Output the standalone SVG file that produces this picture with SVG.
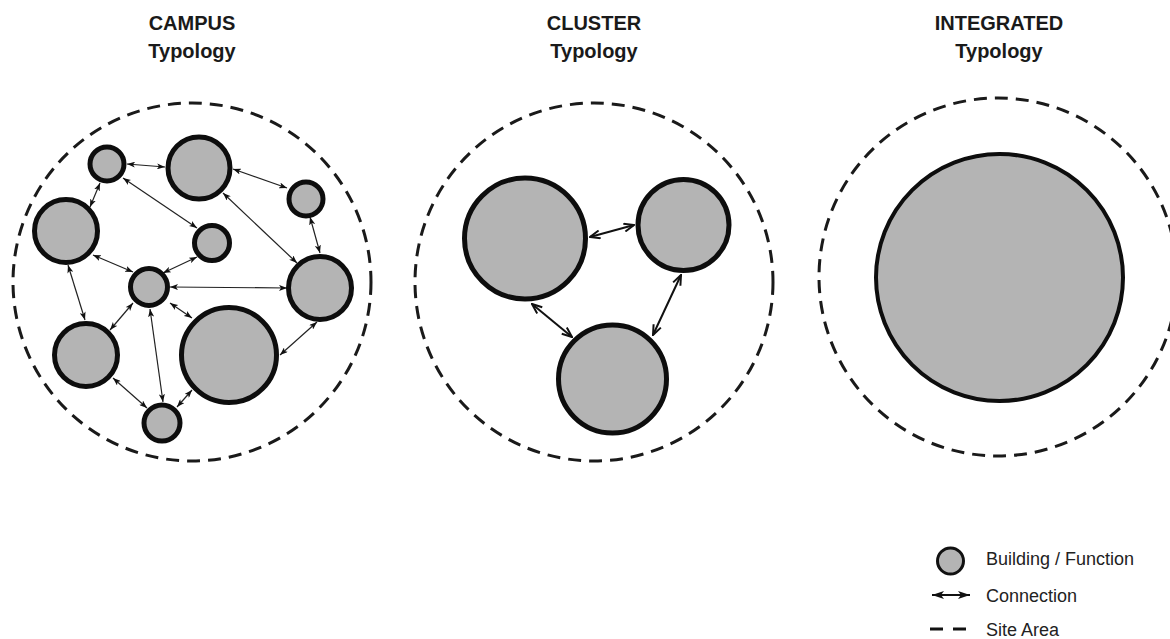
<svg xmlns="http://www.w3.org/2000/svg" width="1170" height="639" viewBox="0 0 1170 639">
<style>
.bg{fill:#ffffff}
.site{fill:none;stroke:#1a1a1a;stroke-width:3;stroke-dasharray:13 8}
.bld{fill:#b4b4b4;stroke:#0d0d0d;stroke-width:5}
.bldi{fill:#b4b4b4;stroke:#0d0d0d;stroke-width:4}
.conn{fill:none;stroke:#222;stroke-width:1.2;marker-start:url(#ah);marker-end:url(#ah)}
.connc{fill:none;stroke:#111;stroke-width:2;marker-start:url(#ahc);marker-end:url(#ahc)}
.title{font-family:"Liberation Sans",Arial,sans-serif;font-weight:bold;font-size:20px;fill:#1a1a1a;text-anchor:middle}
.leg{font-family:"Liberation Sans",Arial,sans-serif;font-size:18px;fill:#222}
</style>
<defs>
<marker id="ah" viewBox="0 0 8 6" refX="8" refY="3" markerWidth="8" markerHeight="6" markerUnits="userSpaceOnUse" orient="auto-start-reverse">
<path d="M0,0 L8,3 L0,6 L2,3 z" fill="#111"/>
</marker>
<marker id="ahc" viewBox="0 0 12 10" refX="11" refY="5" markerWidth="12" markerHeight="10" markerUnits="userSpaceOnUse" orient="auto-start-reverse">
<path d="M1,1 L11,5 L1,9" fill="none" stroke="#111" stroke-width="2"/>
</marker>
<marker id="ahl" viewBox="0 0 12 8" refX="12" refY="4" markerWidth="12" markerHeight="8" markerUnits="userSpaceOnUse" orient="auto-start-reverse">
<path d="M0,0 L12,4 L0,8 L3,4 z" fill="#111"/>
</marker>
</defs>
<rect class="bg" x="0" y="0" width="1170" height="639"/>

<g id="titles">
<text class="title" x="192" y="30">CAMPUS</text>
<text class="title" x="192" y="58">Typology</text>
<text class="title" x="594" y="30">CLUSTER</text>
<text class="title" x="594" y="58">Typology</text>
<text class="title" x="999" y="30">INTEGRATED</text>
<text class="title" x="999" y="58">Typology</text>
</g>

<g id="site-areas">
<circle id="site-campus" class="site" cx="192" cy="282" r="179"/>
<circle id="site-cluster" class="site" cx="594" cy="282" r="179"/>
<circle id="site-integrated" class="site" cx="998" cy="277" r="179"/>
</g>

<g id="connectors">
<line class="conn" x1="127" y1="164" x2="165" y2="167"/>
<line class="conn" x1="233" y1="169" x2="287" y2="188"/>
<line class="conn" x1="100" y1="183" x2="90" y2="207"/>
<line class="conn" x1="123" y1="178" x2="197" y2="228"/>
<line class="conn" x1="223" y1="193" x2="297" y2="263"/>
<line class="conn" x1="310" y1="217" x2="320" y2="253"/>
<line class="conn" x1="93" y1="255" x2="133" y2="272"/>
<line class="conn" x1="197" y1="257" x2="163" y2="273"/>
<line class="conn" x1="170" y1="287" x2="287" y2="288"/>
<line class="conn" x1="68" y1="265" x2="85" y2="320"/>
<line class="conn" x1="133" y1="303" x2="110" y2="330"/>
<line class="conn" x1="150" y1="309" x2="163" y2="402"/>
<line class="conn" x1="170" y1="303" x2="192" y2="318"/>
<line class="conn" x1="317" y1="322" x2="280" y2="355"/>
<line class="conn" x1="113" y1="378" x2="147" y2="408"/>
<line class="conn" x1="192" y1="390" x2="177" y2="407"/>
<line class="connc" x1="590" y1="237" x2="634" y2="225"/>
<line class="connc" x1="532" y1="304" x2="572" y2="337"/>
<line class="connc" x1="681" y1="275" x2="653" y2="335"/>
</g>

<g id="campus-nodes">
<g id="c1"><circle class="bld" cx="107" cy="164" r="17"/></g>
<g id="c2"><circle class="bld" cx="199" cy="168" r="31"/></g>
<g id="c3"><circle class="bld" cx="306" cy="199" r="17"/></g>
<g id="c4"><circle class="bld" cx="66" cy="231" r="31.5"/></g>
<g id="c5"><circle class="bld" cx="212" cy="243" r="17.5"/></g>
<g id="c6"><circle class="bld" cx="149" cy="287" r="18.5"/></g>
<g id="c7"><circle class="bld" cx="320" cy="288" r="31.5"/></g>
<g id="c8"><circle class="bld" cx="86" cy="355" r="31.5"/></g>
<g id="c9"><circle class="bld" cx="229" cy="355" r="47.5"/></g>
<g id="c10"><circle class="bld" cx="162" cy="423" r="18"/></g>
</g>

<g id="cluster-nodes">
<g id="k1"><circle class="bld" cx="525" cy="238.5" r="60.5"/></g>
<g id="k2"><circle class="bld" cx="683.5" cy="225" r="45.5"/></g>
<g id="k3"><circle class="bld" cx="612.5" cy="379" r="54"/></g>
</g>

<g id="integrated-node">
<circle class="bldi" cx="999.5" cy="277.5" r="123.5"/>
</g>

<g id="legend">
<g id="legend-building">
<circle cx="950.5" cy="561" r="13" fill="#b4b4b4" stroke="#111" stroke-width="3"/>
<text class="leg" x="986" y="565">Building / Function</text>
</g>
<g id="legend-connection">
<line x1="932" y1="595" x2="970" y2="595" stroke="#111" stroke-width="2" marker-start="url(#ahl)" marker-end="url(#ahl)"/>
<text class="leg" x="986" y="602">Connection</text>
</g>
<g id="legend-site">
<line x1="930" y1="629" x2="966" y2="629" stroke="#111" stroke-width="3" stroke-dasharray="13 10"/>
<text class="leg" x="986" y="636">Site Area</text>
</g>
</g>
</svg>
